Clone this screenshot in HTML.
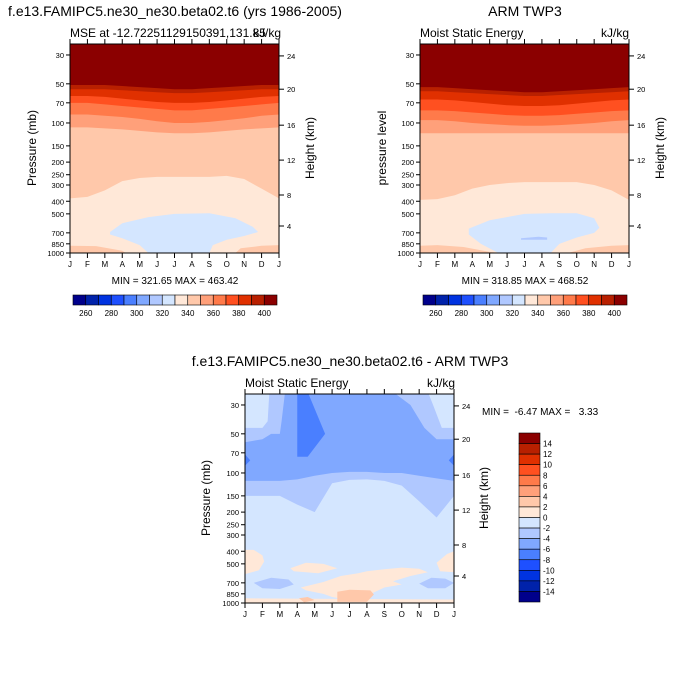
<!DOCTYPE html>
<html><head><meta charset="utf-8"><style>
body{margin:0;background:#fff;}
svg{display:block;font-family:"Liberation Sans",sans-serif;}
</style></head><body>
<svg id="s" width="700" height="700" viewBox="0 0 700 700">
<text x="175" y="16" font-size="14" text-anchor="middle">f.e13.FAMIPC5.ne30_ne30.beta02.t6 (yrs 1986-2005)</text>
<text x="70" y="37" font-size="12">MSE at -12.72251129150391,131.85</text>
<text x="281" y="37" font-size="12" text-anchor="end">kJ/kg</text>
<text x="525" y="16" font-size="14" text-anchor="middle">ARM TWP3</text>
<text x="420" y="37" font-size="12">Moist Static Energy</text>
<text x="629" y="37" font-size="12" text-anchor="end">kJ/kg</text>
<text x="350" y="366" font-size="14" text-anchor="middle">f.e13.FAMIPC5.ne30_ne30.beta02.t6 - ARM TWP3</text>
<text x="245" y="387" font-size="12">Moist Static Energy</text>
<text x="455" y="387" font-size="12" text-anchor="end">kJ/kg</text>
<text x="175" y="284" font-size="10" text-anchor="middle">MIN = 321.65 MAX = 463.42</text>
<text x="525" y="284" font-size="10" text-anchor="middle">MIN = 318.85 MAX = 468.52</text>
<text x="482" y="415" font-size="10" style="white-space:pre">MIN =  -6.47 MAX =   3.33</text>
</svg>
<script>
const NS="http://www.w3.org/2000/svg";
const svg=document.getElementById('s');
const months=["J","F","M","A","M","J","J","A","S","O","N","D","J"];
const pTicks=[30,50,70,100,150,200,250,300,400,500,700,850,1000];
const hTicks=[4,8,12,16,20,24];
const hTickP=[620,358,193,104,55,30.5];
const absLevels=[260,270,280,290,300,310,320,330,340,350,360,370,380,390,400];
const absLabels=[260,280,300,320,340,360,380,400];
const diffLabels=[14,12,10,8,6,4,2,0,-2,-4,-6,-8,-10,-12,-14];
const pal=["#00008B","#0022AA","#0033E0","#1E50FF","#4A7FFF","#80A8FF","#B0C8FF","#D4E6FF","#FFE8D8","#FFC8AA","#FFA07A","#FF7A4A","#FF5020","#E03000","#B82000","#8B0000"];

const modelBase="#FFE8D8";
const model340=[380,370,330,280,265,260,260,260,260,255,270,320,380];
const model350=[108,108,110,112,115,118,120,120,118,115,112,110,108];
const model360=[86,86,88,90,93,97,100,100,98,95,92,88,86];
const model370=[70,70,72,74,76,78,80,80,78,76,74,72,70];
const model380=[62,62,63,65,67,69,70,70,69,67,65,63,62];
const model390=[55,55,55,56,57,58,59,59,58,57,56,55,55];
const modelBlobM=[2.3,3,4.5,6,8,9.5,10.5,10.8,10,9,8.2,8,4.5,4,3,2.3];
const modelBlobP=[690,590,530,500,495,540,630,690,740,790,870,1000,1000,870,770,720];
const obs340=[390,385,360,320,300,290,285,285,285,285,300,330,390];
const obs350=[120,120,120,120,120,120,120,120,120,120,120,120,120];
const obs360=[95,95,97,100,102,104,105,105,104,102,100,97,95];
const obs370=[80,80,81,83,85,87,88,88,87,85,83,81,80];
const obs380=[66,66,67,69,71,73,74,74,73,71,69,67,66];
const obs390=[57,57,58,59,60,61,62,62,61,60,59,58,57];
const obsBlobM=[2.8,4,6,7.5,9,10,10.3,10,9,8,7.5,4.5,3.5,2.8];
const obsBlobP=[650,560,500,495,495,540,640,700,760,850,1000,1000,850,720];
const obsCoreM=[5.8,6.8,7.3,7.3,5.8];
const obsCoreP=[770,750,760,790,790];
const diffBase="#D4E6FF";
const diffM4=[150,150,150,175,200,120,113,112,115,125,165,220,150];
const diffM6=[115,115,115,112,105,100,98,98,100,100,105,110,115];

function el(tag,attrs,parent){const e=document.createElementNS(NS,tag);for(const k in attrs)e.setAttribute(k,attrs[k]);(parent||svg).appendChild(e);return e;}

function makePlot(x0,y0,name){
  const W=209,H=209,pTop=24.7,k=H/Math.log(1000/pTop);
  const X=m=>x0+m*W/12;
  const Y=p=>y0+Math.log(Math.max(p,pTop)/pTop)*k;
  const g=el('g',{});
  
  
  const cp=el('clipPath',{id:'c'+name},g);el('rect',{x:x0,y:y0,width:W,height:H},cp);
  const fill=el('g',{'clip-path':'url(#c'+name+')'},g);
  function band(arr,color,nm){
    let d='M'+X(0)+','+(y0-2);
    arr.forEach((p,i)=>{d+=' L'+X(i)+','+Y(p);});
    d+=' L'+X(12)+','+(y0-2)+'Z';
    const e=el('path',{d:d,fill:color},fill);
    
    
  }
  function poly(ms,ps,color,nm){
    const pts=ms.map((m,i)=>X(m)+','+(ps[i]<=0?y0-2:Y(ps[i]))).join(' ');
    const e=el('polygon',{points:pts,fill:color},fill);
    
    
  }
  function base(c){const e=el('rect',{x:x0,y:y0,width:W,height:H,fill:c},fill);
    
    }
  return {X,Y,g,band,poly,base,x0,y0,W,H};
}
function axes(P,name){
  const {X,Y,g,x0,y0,W,H}=P;
  el('rect',{x:x0,y:y0,width:W,height:H,fill:'none',stroke:'#000','stroke-width':1},g);
  months.forEach((m,i)=>{
    el('line',{x1:X(i),x2:X(i),y1:y0+H,y2:y0+H+5,stroke:'#000'},g);
    el('line',{x1:X(i),x2:X(i),y1:y0,y2:y0-5,stroke:'#000'},g);
    const t=el('text',{x:X(i),y:y0+H+14,'font-size':8,'text-anchor':'middle'},g);t.textContent=m;
    
    
  });
  pTicks.forEach(p=>{
    el('line',{x1:x0,x2:x0-4,y1:Y(p),y2:Y(p),stroke:'#000'},g);
    const t=el('text',{x:x0-6,y:Y(p)+3,'font-size':7.5,'text-anchor':'end'},g);t.textContent=p;
    
    
  });
  hTicks.forEach((h,i)=>{
    const y=Y(hTickP[i]);
    el('line',{x1:x0+W,x2:x0+W+5,y1:y,y2:y,stroke:'#000'},g);
    const t=el('text',{x:x0+W+8,y:y+3,'font-size':7.5},g);t.textContent=h;
    
    
  });
}
function ytitle(x,y,txt,nm){const t=el('text',{x:x,y:y,'font-size':12,'text-anchor':'middle',transform:'rotate(-90 '+x+' '+y+')'});t.textContent=txt;
  
  }

let A=makePlot(70,44,'model');
A.base(modelBase);
A.band(model340,pal[9],'band-340');A.band(model350,pal[10],'band-350');A.band(model360,pal[11],'band-360');
A.band(model370,pal[12],'band-370');A.band(model380,pal[13],'band-380');A.band(model390,pal[14],'band-390');
A.band(model390.map(p=>p-4),pal[15],'band-400');
A.poly(modelBlobM,modelBlobP,pal[7],'low-mse-blob');
A.poly([0,1.5,3,3.2,0],[880,885,960,1000,1000],pal[9],'surface-left');
A.poly([9.5,9.8,11,12,12],[1000,920,880,870,1000],pal[9],'surface-right');
axes(A,'model');
ytitle(36,148,'Pressure (mb)','model-y-title');ytitle(314,148,'Height (km)','model-height-title');

let B=makePlot(420,44,'obs');
B.base(modelBase);
B.band(obs340,pal[9],'band-340');B.band(obs350,pal[10],'band-350');B.band(obs360,pal[11],'band-360');
B.band(obs370,pal[12],'band-370');B.band(obs380,pal[13],'band-380');B.band(obs390,pal[14],'band-390');
B.band(obs390.map(p=>p-4),pal[15],'band-400');
B.poly(obsBlobM,obsBlobP,pal[7],'low-mse-blob');
B.poly(obsCoreM,obsCoreP,pal[6],'low-mse-core');
B.poly([0,1,2.5,4,4.5,0],[880,870,900,980,1000,1000],pal[9],'surface-left');
B.poly([8.5,9.5,11,12,12],[1000,920,880,870,1000],pal[9],'surface-right');
axes(B,'obs');
ytitle(386,148,'pressure level','obs-y-title');ytitle(664,148,'Height (km)','obs-height-title');

let C=makePlot(245,394,'diff');
C.base(diffBase);
C.band(diffM4,pal[6],'band-m4');
C.band(diffM6,pal[5],'band-m6');
C.poly([0,2.3,2.1,2,1.5,1,0],[0,0,40,50,50,55,58],pal[6],'upper-left-m4');
C.poly([8.5,12,12,11,10.3,9.5],[0,0,55,55,45,30],pal[6],'upper-right-m4');
C.poly([0,1.4,1.3,1,0],[0,0,40,45,45],pal[7],'upper-left-m2');
C.poly([10.5,12,12,11.3,10.8],[0,0,45,45,30],pal[7],'upper-right-m2');
C.poly([3,3.6,4.6,3.6,3],[0,0,50,75,75],pal[4],'april-m8');
C.poly([0,0.3,0],[72,80,88],pal[4],'left-m8');
C.poly([12,11.7,12],[72,80,88],pal[4],'right-m8');
C.poly([0,0.5,1,1.1,0.8,0],[390,390,430,480,560,600],pal[8],'peach-left');
C.poly([11,11.6,12,12,11.2],[490,420,400,580,570],pal[8],'peach-right');
C.poly([2.6,3.5,4.5,5.3,4.2,2.8],[540,490,500,540,590,570],pal[8],'peach-mid');
C.poly([3.2,4.5,5.5,6.5,7,8,9,10,10.5,9.5,8.5,9,8,7,6,5,4.5,3.5],[760,690,620,590,570,550,535,545,580,620,680,720,760,880,950,900,850,800],pal[8],'peach-lower');
C.poly([0,12,12,0],[920,940,1000,1000],pal[8],'peach-surface');
C.poly([5.3,6,7.2,7.4,7,5.3],[820,790,800,860,980,980],pal[9],'peach-dark');
C.poly([3.1,3.6,4,3.4],[920,900,950,990],pal[9],'peach-dark-small');
C.poly([0.5,1.5,2.5,2.8,2,1],[700,640,660,720,780,770],pal[6],'blue-left');
C.poly([10,10.7,11.5,12,11.5,10.5],[710,640,650,700,770,770],pal[6],'blue-right');
axes(C,'diff');
ytitle(210,498,'Pressure (mb)','diff-y-title');ytitle(488,498,'Height (km)','diff-height-title');

function hbar(x0,y0,nm){
  const w=204/16;
  const g=el('g',{});
  
  
  pal.forEach((c,i)=>{el('rect',{x:x0+i*w,y:y0,width:w,height:10,fill:c,stroke:'#000','stroke-width':0.6},g);});
  absLabels.forEach(v=>{const i=absLevels.indexOf(v)+1;
    const t=el('text',{x:x0+i*w,y:y0+21,'font-size':8,'text-anchor':'middle'},g);t.textContent=v;});
}
hbar(73,295,'model-colorbar');hbar(423,295,'obs-colorbar');
(function(){
  const x0=519,y0=433,h=169/16;
  const g=el('g',{});
  
  
  pal.slice().reverse().forEach((c,i)=>{el('rect',{x:x0,y:y0+i*h,width:21,height:h,fill:c,stroke:'#000','stroke-width':0.6},g);});
  diffLabels.forEach((v,i)=>{const t=el('text',{x:x0+24,y:y0+(i+1)*h+3,'font-size':8},g);t.textContent=v;});
})();
</script>
</body></html>
